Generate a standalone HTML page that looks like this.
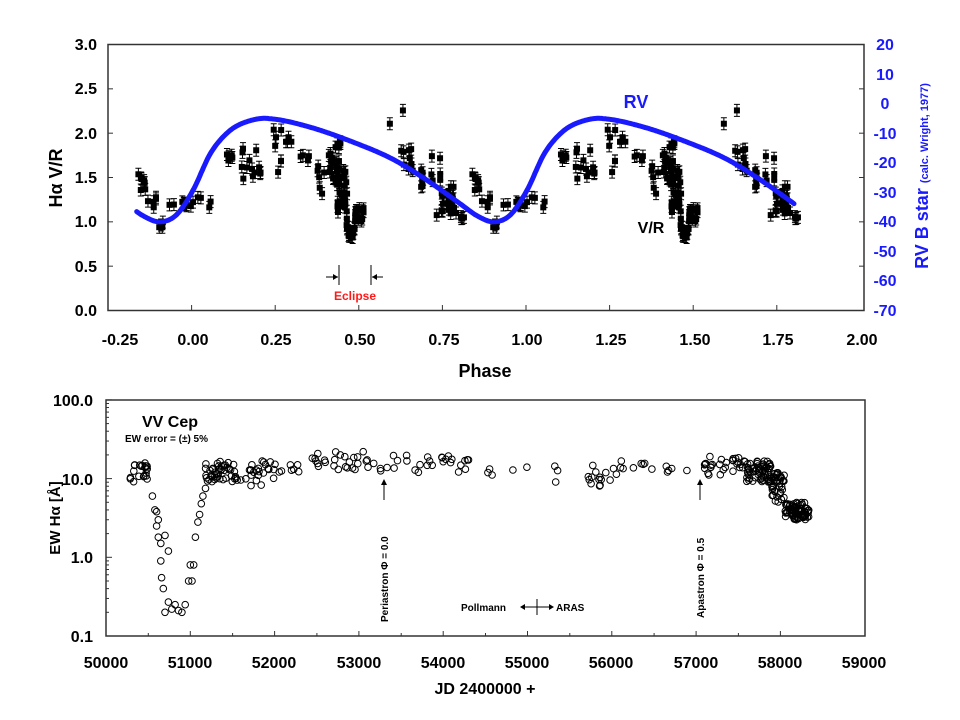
<!DOCTYPE html>
<html><head><meta charset="utf-8">
<style>
html,body{margin:0;padding:0;background:#fff;}
svg{display:block;font-family:"Liberation Sans",Arial,sans-serif;}
</style></head>
<body>
<svg id="s" width="960" height="720" viewBox="0 0 960 720" xmlns="http://www.w3.org/2000/svg">
<rect width="960" height="720" fill="#fff"/>
<g id="gtop"></g>
<g id="gbot"></g>
<rect x="108" y="44.5" width="756" height="266" fill="none" stroke="#333" stroke-width="1.5"/>
<g font-size="16" font-weight="bold" fill="#000" text-anchor="end">
<text x="97" y="50">3.0</text><text x="97" y="94">2.5</text><text x="97" y="139">2.0</text>
<text x="97" y="183">1.5</text><text x="97" y="227">1.0</text><text x="97" y="272">0.5</text><text x="97" y="316">0.0</text>
</g>
<g font-size="16" font-weight="bold" fill="#000" text-anchor="middle">
<text x="120" y="345">-0.25</text><text x="193" y="345">0.00</text><text x="276" y="345">0.25</text><text x="360" y="345">0.50</text>
<text x="444" y="345">0.75</text><text x="527" y="345">1.00</text><text x="611" y="345">1.25</text><text x="695" y="345">1.50</text>
<text x="778" y="345">1.75</text><text x="862" y="345">2.00</text>
<text x="485" y="377" font-size="18">Phase</text>
</g>
<text transform="translate(62,178) rotate(-90)" text-anchor="middle" font-size="18" font-weight="bold">Hα V/R</text>
<g font-size="16" font-weight="bold" fill="#1a1aff" text-anchor="middle">
<text x="885" y="50">20</text><text x="885" y="80">10</text><text x="885" y="109">0</text><text x="885" y="139">-10</text>
<text x="885" y="168">-20</text><text x="885" y="198">-30</text><text x="885" y="227">-40</text><text x="885" y="257">-50</text>
<text x="885" y="286">-60</text><text x="885" y="316">-70</text>
</g>
<text transform="translate(928,176) rotate(-90)" text-anchor="middle" font-weight="bold" fill="#1a1aff"><tspan font-size="18">RV B star </tspan><tspan font-size="11">(calc. Wright, 1977)</tspan></text>
<text x="636" y="108" font-size="18" font-weight="bold" fill="#1a1aff" text-anchor="middle">RV</text>
<text x="651" y="233" font-size="16" font-weight="bold" text-anchor="middle">V/R</text>
<g stroke="#000" stroke-width="1">
<line x1="339" y1="265" x2="339" y2="285"/><line x1="326" y1="277" x2="338" y2="277"/>
<line x1="371" y1="265" x2="371" y2="285"/><line x1="372" y1="277" x2="383" y2="277"/>
</g>
<path d="M338 277 l-5 -3 v6z M372 277 l5 -3 v6z" fill="#000"/>
<text x="355" y="300" font-size="12" font-weight="bold" fill="#ff1a1a" text-anchor="middle">Eclipse</text>

<rect x="106" y="400" width="759" height="236" fill="none" stroke="#333" stroke-width="1.5"/>
<g font-size="16" font-weight="bold" text-anchor="end">
<text x="93" y="406">100.0</text><text x="93" y="485">10.0</text><text x="93" y="563">1.0</text><text x="93" y="642">0.1</text>
</g>
<g font-size="16" font-weight="bold" text-anchor="middle">
<text x="106" y="668">50000</text><text x="190" y="668">51000</text><text x="274" y="668">52000</text><text x="359" y="668">53000</text>
<text x="443" y="668">54000</text><text x="527" y="668">55000</text><text x="611" y="668">56000</text><text x="696" y="668">57000</text>
<text x="780" y="668">58000</text><text x="864" y="668">59000</text>
<text x="485" y="694">JD 2400000 +</text>
</g>
<text transform="translate(60,518) rotate(-90)" text-anchor="middle" font-size="15" font-weight="bold">EW Hα  [Å]</text>
<text x="142" y="427" font-size="16" font-weight="bold">VV Cep</text>
<text x="125" y="442" font-size="10" font-weight="bold">EW error = (±) 5%</text>
<g stroke="#000" stroke-width="1"><line x1="384" y1="500" x2="384" y2="482"/><line x1="700" y1="500" x2="700" y2="482"/></g>
<path d="M384 479 l-3 6 h6z M700 479 l-3 6 h6z"/>
<text transform="translate(388,622) rotate(-90)" font-size="10" font-weight="bold">Periastron    Φ = 0.0</text>
<text transform="translate(704,618) rotate(-90)" font-size="10" font-weight="bold">Apastron    Φ = 0.5</text>
<text x="461" y="611" font-size="10" font-weight="bold">Pollmann</text>
<text x="556" y="611" font-size="10" font-weight="bold">ARAS</text>
<g stroke="#000" stroke-width="1"><line x1="522" y1="607" x2="552" y2="607"/><line x1="537" y1="599" x2="537" y2="615"/></g>
<path d="M520 607 l5 -3 v6z M554 607 l-5 -3 v6z"/>
</svg>
<script>
(function(){
var NS="http://www.w3.org/2000/svg";
function el(p,t,a){var e=document.createElementNS(NS,t);for(var k in a)e.setAttribute(k,a[k]);p.appendChild(e);return e;}
var seed=7;function rnd(){seed=(seed*16807)%2147483647;return seed/2147483647;}
var gT=document.getElementById('gtop'),gB=document.getElementById('gbot');
var frame=document.getElementById('s');
for(var i=1;i<6;i++){var y=310.5-i*44.33;el(frame,'line',{x1:108,y1:y,x2:113,y2:y,stroke:'#333'});el(frame,'line',{x1:859,y1:y,x2:864,y2:y,stroke:'#333'});}
for(var i=1;i<9;i++){var x=108+i*83.6;el(frame,'line',{x1:x,y1:310,x2:x,y2:305,stroke:'#333'});}
for(var i=1;i<9;i++){var x=106+i*84.3;el(frame,'line',{x1:x,y1:636,x2:x,y2:631,stroke:'#333'});
 el(frame,'line',{x1:x-42,y1:636,x2:x-42,y2:633,stroke:'#333'});}
for(var d=0;d<3;d++)for(var m=2;m<=10;m++){var y=636-d*78.7-Math.log10(m)*78.7;el(frame,'line',{x1:106,y1:y,x2:m==10?112:109,y2:y,stroke:'#333'});}
function px(p){return 110+(p+0.25)*334;}
function py(v){return 310-v*88.7;}
var segs=[[-0.165,-0.14,1.3,1.55,8],[-0.14,-0.11,1.15,1.3,5],[-0.11,-0.09,0.9,1.0,4],[-0.08,0.06,1.15,1.28,14],
[0.08,0.12,1.65,1.8,5],[0.14,0.2,1.45,1.85,12],[0.2,0.27,1.5,1.7,4],[0.24,0.3,1.85,2.05,8],[0.32,0.36,1.55,1.75,4],
[0.37,0.4,1.3,1.65,6],[0.4,0.44,1.4,1.9,26],[0.43,0.46,1.1,1.6,20],[0.45,0.49,0.8,1.3,30],[0.49,0.51,1.0,1.2,8],
[0.585,0.59,2.1,2.1,1],[0.62,0.63,2.25,2.25,1],[0.62,0.66,1.55,1.95,10],[0.66,0.69,1.35,1.6,6],[0.71,0.74,1.45,1.75,6],
[0.74,0.79,1.1,1.4,20],[0.77,0.81,1.03,1.1,6],[0.725,0.73,1.07,1.07,1]];
var pts=[];
segs.forEach(function(s){for(var i=0;i<s[4];i++){var p=s[0]+(s[1]-s[0])*rnd();var v=s[2]+(s[3]-s[2])*rnd();
 if(s[0]>=0.45&&s[1]<=0.49){var t=(p-0.45)/0.04;v=1.3-0.5*Math.sin(Math.min(t,1)*Math.PI*0.95)+(rnd()-0.5)*0.15;}
 pts.push([p,v]);}});
pts.forEach(function(q){[0,1].forEach(function(c){var p=q[0]+c;if(p>1.81)return;var x=px(p),y=py(q[1]),e=6;
 el(gT,'path',{d:'M'+x+' '+(y-e)+'V'+(y+e)+'M'+(x-3)+' '+(y-e)+'h6M'+(x-3)+' '+(y+e)+'h6',stroke:'#000','stroke-width':1,fill:'none'});
 el(gT,'rect',{x:x-3,y:y-3,width:6,height:6,fill:'#000'});});});
// periodic Catmull-Rom RV
var base=[[0,-29],[0.05,-17],[0.1,-10],[0.15,-6.5],[0.22,-5],[0.35,-8],[0.5,-14],[0.6,-19],[0.7,-26],[0.8,-34],[0.85,-38],[0.9,-40],[0.95,-37.5]];
var kp=[];for(var c=-1;c<=2;c++)base.forEach(function(b){kp.push([b[0]+c,b[1]]);});
function rv(p){for(var i=1;i<kp.length-2;i++){if(p>=kp[i][0]&&p<=kp[i+1][0]){
 var x0=kp[i-1][0],x1=kp[i][0],x2=kp[i+1][0],x3=kp[i+2][0],y0=kp[i-1][1],y1=kp[i][1],y2=kp[i+1][1],y3=kp[i+2][1];
 var h=x2-x1,t=(p-x1)/h;var m1=(y2-y0)/(x2-x0)*h,m2=(y3-y1)/(x3-x1)*h;
 var t2=t*t,t3=t2*t;return (2*t3-3*t2+1)*y1+(t3-2*t2+t)*m1+(-2*t3+3*t2)*y2+(t3-t2)*m2;}}return -30;}
var d='';for(var p=-0.17;p<=1.8;p+=0.004){var x=px(p),y=44.5+(20-rv(p))*2.956;d+=(d?'L':'M')+x.toFixed(1)+' '+y.toFixed(1);}
el(gT,'path',{d:d,stroke:'#1a1aff','stroke-width':5,fill:'none','stroke-linejoin':'round','stroke-linecap':'round'});
function bx(j){return 106+(j-50000)*0.0843;}
function by(v){return 636-(Math.log10(v)+1)*78.7;}
var ew=[];
function add(j0,j1,v0,v1,n){for(var i=0;i<n;i++)ew.push([j0+(j1-j0)*rnd(),Math.exp(Math.log(v0)+(Math.log(v1)-Math.log(v0))*rnd())]);}
add(50280,50520,9,16,22);
var dip=[[50550,6],[50580,4],[50600,2.5],[50620,1.8],[50650,0.9],[50660,0.55],[50680,0.4],[50700,0.2],[50740,0.27],[50780,0.22],[50820,0.25],[50860,0.21],[50900,0.2],[50940,0.25],[50980,0.5],[51000,0.8],[51020,0.5],[51040,0.8],[51060,1.8],[51090,2.8],[51110,3.5],[51130,4.8],[51150,6],[50700,1.9],[50740,1.2],[50650,1.5],[50620,3],[50600,3.8],[51180,7.5]];
dip.forEach(function(q){ew.push(q);});
add(51150,51500,9,17,40);add(51500,52000,8,17,30);add(52000,52300,12,16,8);add(52400,53100,13,22,25);
add(53100,54400,12,20,30);add(54500,55400,9,15,8);add(55700,56100,8,15,15);add(56100,56500,13,17,8);add(56600,56900,12,17,5);
add(57100,57600,11,20,30);add(57600,57900,9,17,60);add(57900,58050,5,12,40);add(58050,58300,3,5,60);add(58200,58350,3,4.5,15);
ew.forEach(function(q){el(gB,'circle',{cx:bx(q[0]).toFixed(1),cy:by(q[1]).toFixed(1),r:3.3,fill:'none',stroke:'#000','stroke-width':1});});
})();
</script>
</body></html>
